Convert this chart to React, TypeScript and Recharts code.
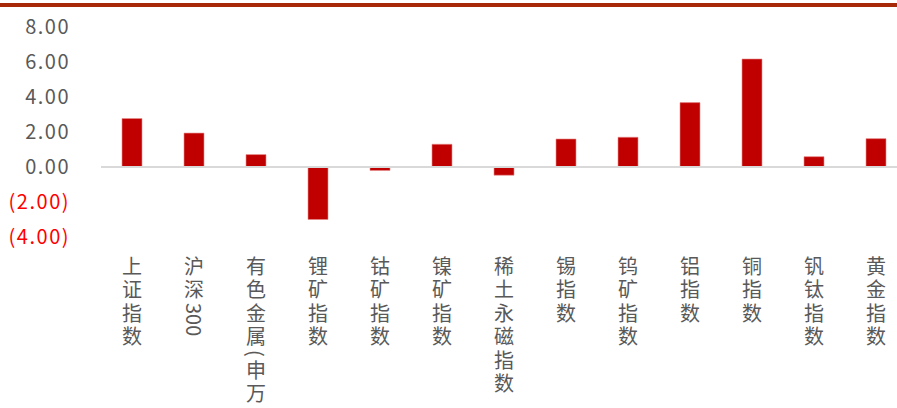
import { BarChart, Bar, XAxis, YAxis, ReferenceLine } from "recharts";

const categories = [
  "上证指数",
  "沪深300",
  "有色金属(申万)",
  "锂矿指数",
  "钴矿指数",
  "镍矿指数",
  "稀土永磁指数",
  "锡指数",
  "钨矿指数",
  "铝指数",
  "铜指数",
  "钒钛指数",
  "黄金指数",
];
const changes = [2.77, 1.94, 0.71, -3.0, -0.2, 1.3, -0.47, 1.6, 1.7, 3.68, 6.17, 0.59, 1.62];
const yTicks = [-4, -2, 0, 2, 4, 6, 8];

const data = categories.map((name, i) => ({ name, value: changes[i] }));

const fmt = (v: number) => (v < 0 ? `(${Math.abs(v).toFixed(2)})` : v.toFixed(2));

function YTick({ y, payload }: any) {
  const v = payload.value as number;
  return (
    <text
      x={70}
      y={y}
      dy={7}
      textAnchor="end"
      fontSize={20}
      fill={v < 0 ? "#FF0000" : "#595959"}
      fontFamily="'Noto Sans CJK SC', sans-serif"
      letterSpacing={1.5}
    >
      {fmt(v)}
    </text>
  );
}

// split label so digits stay tight while CJK chars get extra spacing
function XTick({ x, y, payload }: any) {
  const parts = String(payload.value).match(/[0-9]+|[^0-9]+/g) || [];
  return (
    <text
      x={x}
      y={y + 11}
      fontSize={20}
      fill="#595959"
      fontFamily="'Noto Sans CJK SC', sans-serif"
      style={{ writingMode: "vertical-rl" }}
    >
      {parts.map((p, i) => (
        <tspan key={i} letterSpacing={/[0-9]/.test(p) ? 0 : 3.5}>
          {p}
        </tspan>
      ))}
    </text>
  );
}

export default function App() {
  return (
    <div
      style={{
        position: "absolute",
        left: 0,
        top: 0,
        width: 897,
        height: 408,
        overflow: "hidden",
        background: "#fff",
      }}
    >
      <div
        style={{
          position: "absolute",
          left: 0,
          top: 3,
          width: 897,
          height: 4,
          background: "#A8290A",
        }}
      />
      <BarChart
        width={907}
        height={408}
        data={data}
        margin={{ top: 27, right: 0, bottom: 0, left: 0 }}
      >
        <YAxis
          width={101}
          domain={[-4, 8]}
          ticks={yTicks}
          axisLine={false}
          tickLine={false}
          tick={<YTick />}
          interval={0}
        />
        <XAxis
          dataKey="name"
          height={171}
          axisLine={false}
          tickLine={false}
          interval={0}
          tick={<XTick />}
        />
        <ReferenceLine y={0} stroke="#D9D9D9" strokeWidth={2} />
        <Bar
          dataKey="value"
          fill="#C00000"
          stroke="#E88A8A"
          strokeWidth={0.6}
          barSize={20}
          isAnimationActive={false}
        />
      </BarChart>
    </div>
  );
}
